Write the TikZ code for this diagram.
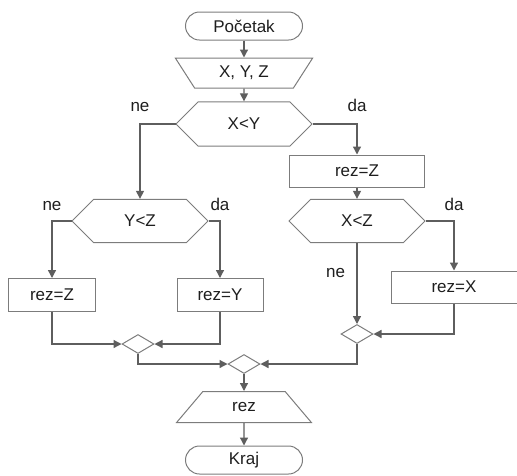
\documentclass[tikz,border=0pt]{standalone}
\usepackage{fontspec}
\setmainfont{Liberation Sans}
\usetikzlibrary{arrows.meta,positioning,shapes.geometric,shapes.misc}
\definecolor{linegray}{HTML}{5E5E5E}
\definecolor{boxgray}{HTML}{7C7C7C}
\definecolor{txt}{HTML}{1E1E1E}

\begin{document}
\begin{tikzpicture}[x=1pt, y=-1pt,
		font=\fontsize{17}{20}\selectfont, text=txt,
		>={Triangle[length=8pt,width=8pt]},
		flow/.style={draw=linegray, line width=1.3pt},
		term/.style={draw=boxgray, line width=1pt, rectangle, rounded corners=14pt, minimum width=117pt, minimum height=28pt, inner sep=0},
		inbox/.style={draw=boxgray, line width=1pt, trapezium, trapezium stretches=true, shape border rotate=180, trapezium left angle=55, trapezium right angle=55, minimum width=138pt, minimum height=30pt, inner sep=0},
		outbox/.style={draw=boxgray, line width=1pt, trapezium, trapezium stretches=true, trapezium left angle=51, trapezium right angle=51, minimum width=135pt, minimum height=31pt, inner sep=0},
		proc/.style={draw=boxgray, line width=1pt, rectangle, minimum height=33pt, inner sep=0},
		hexa/.style={draw=boxgray, line width=1pt, chamfered rectangle, chamfered rectangle xsep=25pt, chamfered rectangle ysep=16.9pt, minimum width=136pt, minimum height=34pt, inner sep=0},
		merge/.style={draw=boxgray, line width=1pt, diamond, minimum width=32pt, minimum height=19pt, inner sep=0}]
	\useasboundingbox (0,0) rectangle (517,475);
	
	% Start and input
	\node[term] (start) at (244,26) {Početak};
	\node[inbox] (inp) at (244,73) {X, Y, Z};
	\node[hexa] (c1) at (244,124) {X<Y};
	
	% Left branch
	\node[hexa] (c2) at (140,221) {Y<Z};
	\node[proc, minimum width=87pt] (a1) at (52,295) {rez=Z};
	\node[proc, minimum width=86pt] (a2) at (220,295) {rez=Y};
	
	% Right branch
	\node[proc, minimum width=135pt, minimum height=32pt] (b1) at (357,171) {rez=Z};
	\node[hexa] (c3) at (357,221) {X<Z};
	\node[proc, minimum width=126pt, minimum height=32pt] (b2) at (454,287) {rez=X};
	
	% Merge points
	\foreach \n/\x/\y in {m1/138/344, m2/357/334, m3/244/364} {
		\node[merge] (\n) at (\x,\y) {};
	}
	
	% Output and end
	\node[outbox] (out) at (244,407) {rez};
	\node[term] (end) at (244,460) {Kraj};
	
	% Arrows
	\draw[->, flow] (start) -- (inp);
	\draw[->, flow] (inp) -- (c1);
	\draw[->, flow] (c1.west) -| node[pos=0.5, above=8pt] {ne} (c2.north);
	\draw[->, flow] (c1.east) -| node[pos=0.5, above=8pt] {da} (b1.north);
	\draw[->, flow] (c2.west) -| node[pos=0.5, above=6pt] {ne} (a1.north);
	\draw[->, flow] (c2.east) -| node[pos=0.5, above=6pt] {da} (a2.north);
	\draw[->, flow] (a1.south) |- (m1.west);
	\draw[->, flow] (a2.south) |- (m1.east);
	\draw[->, flow] (b1) -- (c3);
	\draw[->, flow] (c3.east) -| node[pos=0.5, above=6pt] {da} (b2.north);
	\draw[->, flow] (c3.south) -- node[pos=0.37, left=8pt] {ne} (m2.north);
	\draw[->, flow] (b2.south) |- (m2.east);
	\draw[->, flow] (m1.south) |- (m3.west);
	\draw[->, flow] (m2.south) |- (m3.east);
	\draw[->, flow] (m3) -- (out);
	\draw[->, flow] (out) -- (end);
\end{tikzpicture}
\end{document}
